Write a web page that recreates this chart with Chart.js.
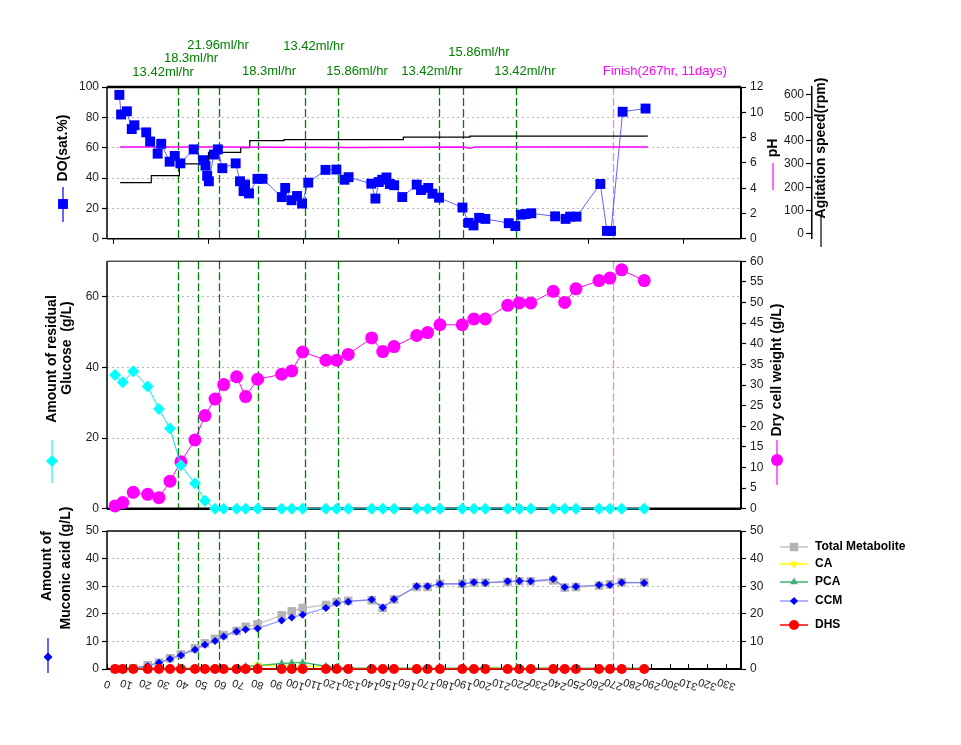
<!DOCTYPE html>
<html>
<head>
<meta charset="utf-8">
<script src="https://cdn.jsdelivr.net/npm/chart.js@4.4.1/dist/chart.umd.min.js"></script>
<style>
  body { margin: 0; background: #fff; }
  canvas { position: absolute; left: 0; }
  #topChart { top: 0; }
  #midChart { top: 250px; }
  #botChart { top: 495px; }
</style>
</head>
<body>
<canvas id="topChart" width="961" height="250"></canvas>
<canvas id="midChart" width="961" height="270"></canvas>
<canvas id="botChart" width="961" height="250"></canvas>
<script>
// ---- data ----
const doHours = [6.6, 7.5, 10.6, 13.2, 14.6, 20.9, 23.0, 27.0, 28.9, 33.4, 36.1, 39.1, 46.2, 51.3, 52.5, 53.4, 54.3, 57.0, 59.1, 61.5, 68.6, 70.9, 72.8, 73.6, 75.7, 80.2, 82.9, 93.2, 95.0, 98.4, 101.3, 104.0, 107.3, 116.5, 122.3, 126.6, 128.8, 140.9, 143.1, 144.9, 146.7, 149.0, 150.8, 153.1, 157.4, 165.1, 167.4, 171.3, 173.5, 177.0, 189.5, 192.8, 195.4, 198.4, 201.7, 214.2, 217.7, 220.8, 223.1, 226.2, 238.9, 244.5, 246.9, 250.3, 263.0, 266.5, 268.7, 274.9, 287.1];
const doValues = [94.8, 81.9, 84.0, 72.3, 74.8, 70.1, 64.1, 56.1, 62.6, 50.8, 54.6, 49.7, 58.9, 51.8, 48.2, 41.5, 37.9, 55.5, 58.9, 46.5, 49.7, 37.9, 31.4, 35.7, 29.9, 39.5, 39.5, 27.5, 33.5, 25.4, 28.2, 23.2, 37.0, 45.4, 45.6, 38.9, 40.6, 36.3, 26.5, 37.4, 38.9, 40.4, 36.1, 35.3, 27.5, 35.7, 32.1, 33.5, 29.7, 27.1, 20.6, 10.5, 8.8, 13.8, 13.1, 10.3, 8.4, 15.9, 16.3, 16.8, 14.8, 13.1, 14.6, 14.6, 36.1, 5.2, 5.2, 83.7, 85.8];

const phHours = [7, 60, 130, 190, 193.5, 196, 250, 288.3];
const phValues = [7.25, 7.25, 7.22, 7.25, 7.15, 7.25, 7.25, 7.25];

const rpmHours = [7, 23.6, 38.6, 54.1, 71.3, 76.1, 94.3, 158, 193.5, 288.3];
const rpmValues = [220, 250, 300, 350, 370, 400, 405, 415, 420, 420];

const sampleHours = [4.3, 8.4, 14.0, 21.7, 27.7, 33.6, 39.4, 46.9, 52.2, 57.6, 62.2, 69.1, 73.9, 80.3, 93.1, 98.5, 104.3, 116.7, 122.4, 128.6, 141.1, 147.0, 153.0, 165.1, 170.9, 177.5, 189.4, 195.6, 201.7, 213.6, 219.8, 225.9, 237.9, 244.0, 250.0, 262.3, 268.1, 274.4, 286.4];
const glucoseValues = [37.8, 35.8, 38.9, 34.6, 28.2, 22.7, 12.3, 7.2, 2.3, 0, 0, 0, 0, 0, 0, 0, 0, 0, 0, 0, 0, 0, 0, 0, 0, 0, 0, 0, 0, 0, 0, 0, 0, 0, 0, 0, 0, 0, 0];
const dcwValues = [0.7, 1.5, 4.0, 3.5, 2.7, 6.7, 11.4, 16.7, 22.6, 26.6, 30.1, 32.0, 27.2, 31.4, 32.6, 33.4, 38.0, 36.0, 36.0, 37.4, 41.4, 38.1, 39.3, 42.0, 42.7, 44.6, 44.6, 46.0, 46.0, 49.3, 49.9, 49.9, 52.7, 50.0, 53.3, 55.3, 55.9, 57.9, 55.3];

const totalValues = [0, 0, 0.3, 1.4, 2.3, 3.9, 5.3, 7.5, 9.3, 10.9, 12.3, 13.8, 15.3, 16.2, 19.5, 20.9, 22.1, 23.2, 24.3, 24.7, 24.9, 22.1, 25.2, 29.7, 29.7, 30.9, 30.9, 31.3, 31.3, 31.5, 31.8, 31.8, 32.1, 29.5, 29.7, 30.2, 30.7, 31.4, 31.4];
const caValues = [0.1, 0.1, 0.1, 0.1, 0.1, 0.2, 0.2, 0.2, 0.2, 0.2, 0.2, 0.2, 0.3, 1.5, 0.9, 1.0, 1.1, 0.6, 0.3, 0.2, 0.2, 0.2, 0.2, 0.1, 0.1, 0.1, 0.3, 0.5, 0.5, 0.3, 0.2, 0.2, 0.2, 0.1, 0.1, 0.1, 0.1, 0.1, 0.1];
const pcaValues = [0.3, 0.3, 0.3, 0.3, 0.3, 0.3, 0.2, 0.3, 0.3, 0.3, 0.3, 0.4, 1.0, 1.2, 2.0, 2.2, 2.4, 1.0, 0.6, 0.4, 0.3, 0.3, 0.3, 0.3, 0.3, 0.3, 0.3, 0.3, 0.3, 0.3, 0.3, 0.3, 0.3, 0.3, 0.3, 0.3, 0.3, 0.3, 0.3];
const ccmValues = [0, 0, 0.2, 1.0, 2.3, 3.6, 5.0, 7.0, 8.8, 10.1, 11.8, 13.6, 14.3, 14.7, 17.6, 18.7, 19.7, 22.1, 23.8, 24.4, 25.2, 22.3, 25.3, 30.0, 30.0, 30.8, 30.8, 31.4, 31.2, 31.8, 31.9, 31.8, 32.6, 29.6, 29.9, 30.4, 30.4, 31.3, 31.2];
const dhsValues = [0, 0, 0, 0, 0, 0, 0, 0, 0, 0, 0, 0, 0, 0, 0, 0, 0, 0, 0, 0, 0, 0, 0, 0, 0, 0, 0, 0, 0, 0, 0, 0, 0, 0, 0, 0, 0, 0, 0];

// feed-rate changes (hours) and the finish marker
const feedChangeHours = [38.0, 48.7, 59.9, 80.7, 105.7, 123.3, 177.1, 189.9, 218.2];
const finishHour = 269.9;
const feedLabels = ['13.42ml/hr', '18.3ml/hr', '21.96ml/hr', '18.3ml/hr', '13.42ml/hr', '15.86ml/hr', '13.42ml/hr', '15.86ml/hr', '13.42ml/hr'];
const finishLabel = 'Finish(267hr, 11days)';

// ---- layout ----
const FONT = '"Liberation Sans", Arial, sans-serif';
const feedLabelAt = [29.9, 44.8, 59.2, 86.4, 110.3, 133.3, 173.2, 198.3, 222.8];
const feedLabelY = [72, 58, 45, 71, 46, 71, 71, 52, 71];
const topTickAt = [3.2, 53.8, 104.5, 155, 205.6, 256.4, 307];
const X_MIN = 0, X_MAX = 338;

Chart.defaults.font.family = FONT;
Chart.defaults.font.size = 12;
Chart.defaults.color = '#1a1a1a';
Chart.defaults.animation = false;

function pts(xs, ys) {
    return xs.map((x, i) => ({ x: x, y: ys[i] }));
}

function fixWidth(w) { return scale => { scale.width = w; }; }
function fixHeight(h) { return scale => { scale.height = h; }; }

function leftAxis(min, max, step) {
    return {
        position: 'left', min: min, max: max,
        afterFit: fixWidth(107),
        ticks: { stepSize: step, padding: 3, includeBounds: false },
        grid: {
            color: c => (c.tick && c.tick.value > min && c.tick.value < max) ? '#b5b5b5' : 'rgba(0,0,0,0)',
            tickColor: '#000', tickLength: 5, tickWidth: 1.2, lineWidth: 1
        },
        border: { display: false, dash: [2, 3] }
    };
}

function rightAxis(min, max, step, width) {
    return {
        position: 'right', min: min, max: max,
        afterFit: fixWidth(width || 220),
        ticks: { stepSize: step, padding: 4, includeBounds: false },
        grid: { drawOnChartArea: false, tickColor: '#000', tickLength: 5, tickWidth: 1.2 },
        border: { display: false }
    };
}

function xAxis(height, step) {
    return {
        type: 'linear', min: X_MIN, max: X_MAX,
        afterFit: fixHeight(height),
        ticks: { display: false, stepSize: step, includeBounds: false },
        grid: { drawOnChartArea: false, drawTicks: false },
        border: { display: false }
    };
}

function text(ctx, str, x, y, font, color, rot, align) {
    ctx.save();
    ctx.translate(x, y);
    ctx.rotate(rot || 0);
    ctx.font = font;
    ctx.fillStyle = color || '#000';
    ctx.textAlign = align || 'center';
    ctx.textBaseline = 'middle';
    ctx.fillText(str, 0, 0);
    ctx.restore();
}

function hline(ctx, x1, y1, x2, y2, w, color) {
    ctx.save();
    ctx.strokeStyle = color || '#000';
    ctx.lineWidth = w;
    ctx.beginPath();
    ctx.moveTo(x1, y1);
    ctx.lineTo(x2, y2);
    ctx.stroke();
    ctx.restore();
}

// small key drawn under an axis title: a vertical line with a marker
function titleKey(ctx, x, y1, y2, ym, color, style, radius) {
    hline(ctx, x, y1, x, y2, 1.2, color);
    if (style) {
        ctx.save();
        ctx.fillStyle = color;
        Chart.helpers.drawPoint(ctx, { pointStyle: style, radius: radius, rotation: 0, borderWidth: 0 }, x, ym);
        ctx.restore();
    }
}

const UP = -Math.PI / 2;
const TITLE = 'bold 14px ' + FONT;

function drawFeedLines(chart) {
    const ctx = chart.ctx, a = chart.chartArea, xs = chart.scales.x;
    ctx.save();
    ctx.setLineDash([8, 3]);
    ctx.lineWidth = 1.3;
    feedChangeHours.concat([finishHour]).forEach(h => {
        const px = Math.round(xs.getPixelForValue(h)) + 0.5;
        ctx.strokeStyle = h === finishHour ? '#ee82ee' : '#008000';
        ctx.beginPath();
        ctx.moveTo(px, a.top);
        ctx.lineTo(px, a.bottom);
        ctx.stroke();
    });
    ctx.restore();
}

function panelPlugin(frame, extra) {
    return {
        id: 'panel',
        beforeDatasetsDraw(chart) {
            const ctx = chart.ctx, a = chart.chartArea;
            drawFeedLines(chart);
            hline(ctx, a.left, a.top, a.right, a.top, frame[0]);
            hline(ctx, a.left, a.bottom, a.right, a.bottom, frame[1]);
            hline(ctx, a.left, a.top, a.left, a.bottom, frame[2]);
            hline(ctx, a.right, a.top, a.right, a.bottom, frame[3]);
        },
        afterDraw(chart) { extra(chart); }
    };
}

function baseOptions(padTop, scales) {
    return {
        responsive: false,
        maintainAspectRatio: false,
        events: [],
        layout: { padding: { top: padTop, left: 0, right: 0, bottom: 0 }, autoPadding: false },
        plugins: { legend: { display: false }, tooltip: { enabled: false } },
        elements: { line: { tension: 0 } },
        scales: scales
    };
}

// ---- top panel: DO, pH, agitation ----
function drawTopExtras(chart) {
    const ctx = chart.ctx, xs = chart.scales.x, a = chart.chartArea;
    topTickAt.forEach(h => {
        const px = Math.round(xs.getPixelForValue(h)) + 0.5;
        hline(ctx, px, a.bottom, px, a.bottom + 5, 1);
    });
    feedLabels.forEach((t, i) => {
        text(ctx, t, xs.getPixelForValue(feedLabelAt[i]), feedLabelY[i], '13px ' + FONT, '#008000');
    });
    text(ctx, finishLabel, xs.getPixelForValue(297.4), 71, '13px ' + FONT, '#ff00ff');

    text(ctx, 'DO(sat.%)', 63, 148, TITLE, '#000', UP);
    titleKey(ctx, 63, 187, 222, 204, '#0000ff', 'rect', 7);
    text(ctx, 'pH', 773, 148, TITLE, '#000', UP);
    titleKey(ctx, 773, 163, 190, 0, '#ff00ff', null, 0);
    text(ctx, 'Agitation speed(rpm)', 821, 148, TITLE, '#000', UP);
    titleKey(ctx, 821, 215, 247, 0, '#000', null, 0);
}

const phAxis = rightAxis(0, 12, 2, 71);
phAxis.weight = 0;

new Chart(document.getElementById('topChart'), {
    type: 'line',
    data: {
        datasets: [{
            label: 'DO(sat.%)',
            data: pts(doHours, doValues),
            yAxisID: 'yDO',
            borderColor: 'rgba(70,70,255,0.85)',
            borderWidth: 1,
            pointStyle: 'rect',
            pointRadius: 7,
            pointBackgroundColor: '#0000ff',
            pointBorderWidth: 0,
            clip: false,
            order: 1
        }, {
            label: 'pH',
            data: pts(phHours, phValues),
            yAxisID: 'yPH',
            borderColor: '#ff00ff',
            borderWidth: 1.5,
            pointRadius: 0,
            order: 2
        }, {
            label: 'Agitation speed(rpm)',
            data: pts(rpmHours, rpmValues),
            yAxisID: 'yRPM',
            stepped: true,
            borderColor: '#000',
            borderWidth: 1.2,
            pointRadius: 0,
            order: 3
        }]
    },
    options: baseOptions(87, {
        x: xAxis(8, 50),
        yDO: leftAxis(0, 100, 20),
        yPH: phAxis,
        yRPM: {
            position: 'right',
            weight: 1,
            min: -22, max: 631,
            afterFit: fixWidth(149),
            // labels sit on the inner side of this outer axis
            ticks: { stepSize: 100, includeBounds: false, mirror: true, padding: -8 },
            grid: { drawOnChartArea: false, tickColor: '#000', tickLength: -6, tickWidth: 1.2 },
            border: { display: true, color: '#000', width: 1.5 }
        }
    }),
    plugins: [panelPlugin([2.5, 1.5, 1.5, 2], drawTopExtras)]
});

// ---- middle panel: glucose and dry cell weight ----
function drawMidExtras(chart) {
    const ctx = chart.ctx;
    text(ctx, 'Amount of residual', 52, 109, TITLE, '#000', UP);
    text(ctx, 'Glucose  (g/L)', 67, 98, TITLE, '#000', UP);
    titleKey(ctx, 52, 190, 233, 211, '#00ffff', 'rectRot', 6);
    text(ctx, 'Dry cell weight (g/L)', 777, 120, TITLE, '#000', UP);
    titleKey(ctx, 777, 190, 235, 210, '#ff00ff', 'circle', 6);
}

new Chart(document.getElementById('midChart'), {
    type: 'line',
    data: {
        datasets: [{
            label: 'Amount of residual Glucose (g/L)',
            data: pts(sampleHours, glucoseValues),
            yAxisID: 'yG',
            borderColor: '#00e8e8',
            borderWidth: 1,
            pointStyle: 'rectRot',
            pointRadius: 6,
            pointBackgroundColor: '#00ffff',
            pointBorderWidth: 0,
            clip: false,
            order: 1
        }, {
            label: 'Dry cell weight (g/L)',
            data: pts(sampleHours, dcwValues),
            yAxisID: 'yDCW',
            borderColor: '#ff00ff',
            borderWidth: 1,
            pointStyle: 'circle',
            pointRadius: 6.5,
            pointBackgroundColor: '#ff00ff',
            pointBorderWidth: 0,
            clip: false,
            order: 2
        }]
    },
    options: baseOptions(5, {
        x: xAxis(4, 10),
        yG: leftAxis(0, 70, 20),
        yDCW: rightAxis(0, 60, 5)
    }),
    plugins: [panelPlugin([1, 2.5, 1.5, 2], drawMidExtras)]
});

// ---- bottom panel: metabolites ----
const legendOrder = ['Total Metabolite', 'CA', 'PCA', 'CCM', 'DHS'];
const legendY = [52, 69, 87, 106, 130];

function drawBotExtras(chart) {
    const ctx = chart.ctx, xs = chart.scales.x, a = chart.chartArea;
    // x ticks point inwards, labels are printed upside down
    xs.ticks.forEach(t => {
        const px = Math.round(xs.getPixelForValue(t.value)) + 0.5;
        hline(ctx, px, a.bottom, px, a.bottom - 5, 1);
        text(ctx, String(t.value), px, a.bottom + 15, '11px ' + FONT, '#222', 198 * Math.PI / 180);
    });

    text(ctx, 'Amount of', 47, 71, TITLE, '#000', UP);
    text(ctx, 'Muconic acid (g/L)', 66, 73, TITLE, '#000', UP);
    titleKey(ctx, 48, 143, 178, 162, '#0000ff', 'rectRot', 4.5);

    legendOrder.forEach((name, i) => {
        const ds = chart.data.datasets.find(d => d.label === name);
        const y = legendY[i];
        hline(ctx, 780, y, 808, y, 1.5, ds.borderColor);
        ctx.save();
        ctx.fillStyle = ds.pointBackgroundColor;
        Chart.helpers.drawPoint(ctx, { pointStyle: ds.pointStyle, radius: ds.pointRadius, rotation: ds.pointRotation || 0, borderWidth: 0 }, 794, y);
        ctx.restore();
        text(ctx, name, 815, y, 'bold 12px ' + FONT, '#000', 0, 'left');
    });
}

function metaboliteSet(label, values, color, line, style, radius, order, rotation) {
    return {
        label: label,
        data: pts(sampleHours, values),
        yAxisID: 'yM',
        borderColor: line,
        borderWidth: 1.3,
        pointStyle: style,
        pointRadius: radius,
        pointRotation: rotation || 0,
        pointBackgroundColor: color,
        pointBorderWidth: 0,
        clip: false,
        order: order
    };
}

new Chart(document.getElementById('botChart'), {
    type: 'line',
    data: {
        datasets: [
            metaboliteSet('Total Metabolite', totalValues, '#b4b4b4', '#c4c4c4', 'rect', 6, 5),
            metaboliteSet('CA', caValues, '#ffff00', '#ffff00', 'triangle', 4.5, 4, 180),
            metaboliteSet('PCA', pcaValues, '#3cb371', '#3cb371', 'triangle', 4.5, 3),
            metaboliteSet('CCM', ccmValues, '#0000ff', 'rgba(70,70,255,0.55)', 'rectRot', 4, 2),
            metaboliteSet('DHS', dhsValues, '#ff0000', '#ff0000', 'circle', 5, 1)
        ]
    },
    options: baseOptions(36, {
        x: xAxis(76, 10),
        yM: leftAxis(0, 50, 10),
        yM2: rightAxis(0, 50, 10)
    }),
    plugins: [panelPlugin([1.5, 2, 1.5, 2], drawBotExtras)]
});
</script>
</body>
</html>
